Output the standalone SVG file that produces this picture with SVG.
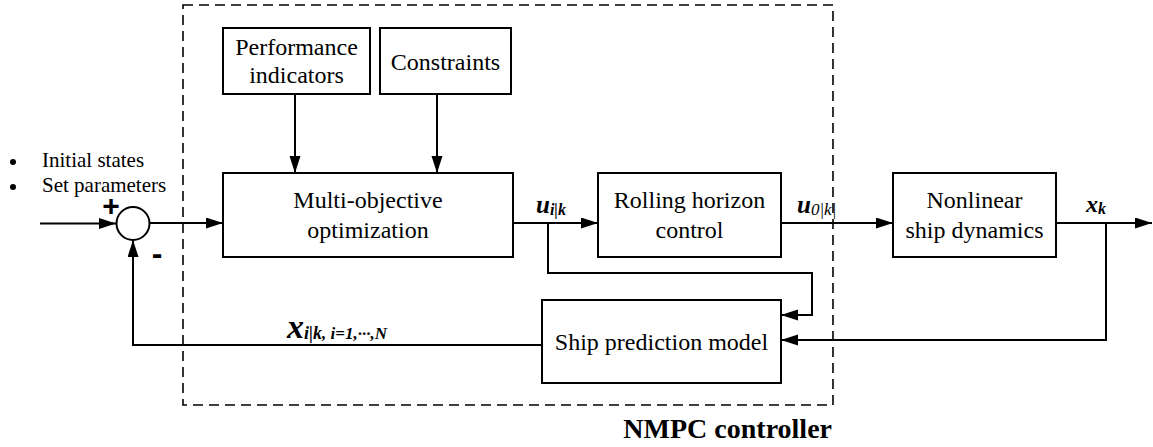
<svg xmlns="http://www.w3.org/2000/svg" width="1153" height="447" viewBox="0 0 1153 447">
<style>
.box{fill:#fff;stroke:#000;stroke-width:2}
.ln{fill:none;stroke:#000;stroke-width:2}
.t{font-family:"Liberation Serif","Times New Roman",serif;font-size:24px;fill:#000;text-anchor:middle}
.s{font-family:"Liberation Serif","Times New Roman",serif;font-size:21px;fill:#000}
.m{font-family:"Liberation Serif","Times New Roman",serif;font-weight:bold;font-style:italic;fill:#000}
</style>
<defs>
<marker id="ah" markerUnits="userSpaceOnUse" markerWidth="18" markerHeight="12" refX="17" refY="5.5" orient="auto">
<path d="M0,0 L17,5.5 L0,11 z" fill="#000"/>
</marker>
</defs>
<rect x="183" y="5" width="650" height="400" fill="none" stroke="#000" stroke-width="1.6" stroke-dasharray="10 6"/>
<text x="832" y="438" font-family="Liberation Serif, serif" font-weight="bold" font-size="28" text-anchor="end">NMPC controller</text>

<g id="inputs">
<circle cx="13" cy="162" r="3"/>
<circle cx="13" cy="187" r="3"/>
<text class="s" x="42" y="167">Initial states</text>
<text class="s" x="42" y="192">Set parameters</text>
</g>
<g id="sum">
<circle cx="133" cy="223.5" r="16.5" fill="#fff" stroke="#000" stroke-width="2"/>
<text x="111" y="216" font-family="Liberation Sans, Arial, sans-serif" font-weight="bold" font-size="30" text-anchor="middle">+</text>
<text x="157" y="264" font-family="Liberation Sans, Arial, sans-serif" font-weight="bold" font-size="32" text-anchor="middle">-</text>
</g>
<g id="perf">
<rect class="box" x="223" y="28" width="147" height="66"/>
<text class="t" x="296.5" y="55">Performance</text>
<text class="t" x="296.5" y="83">indicators</text>
</g>
<g id="cons">
<rect class="box" x="380" y="28" width="131" height="66"/>
<text class="t" x="445.5" y="70">Constraints</text>
</g>
<g id="multi">
<rect class="box" x="223" y="173" width="290" height="84"/>
<text class="t" x="368" y="208">Multi-objective</text>
<text class="t" x="368" y="238">optimization</text>
</g>
<g id="rolling">
<rect class="box" x="598" y="173" width="183" height="84"/>
<text class="t" x="689.5" y="208">Rolling horizon</text>
<text class="t" x="689.5" y="238">control</text>
</g>
<g id="nonlinear">
<rect class="box" x="893" y="173" width="163" height="84"/>
<text class="t" x="974.5" y="208">Nonlinear</text>
<text class="t" x="974.5" y="238">ship dynamics</text>
</g>
<g id="pred">
<rect class="box" x="542" y="300" width="239" height="83"/>
<text class="t" x="661.5" y="350">Ship prediction model</text>
</g>

<g id="connectors">
<line class="ln" x1="40" y1="223.5" x2="116" y2="223.5" marker-end="url(#ah)"/>
<line class="ln" x1="149.5" y1="223" x2="223" y2="223" marker-end="url(#ah)"/>
<line class="ln" x1="295" y1="94" x2="295" y2="173" marker-end="url(#ah)"/>
<line class="ln" x1="437" y1="94" x2="437" y2="173" marker-end="url(#ah)"/>
<line class="ln" x1="513" y1="223" x2="598" y2="223" marker-end="url(#ah)"/>
<polyline class="ln" points="548,223 548,273 812,273 812,315 781,315" marker-end="url(#ah)"/>
<line class="ln" x1="781" y1="223" x2="893" y2="223" marker-end="url(#ah)"/>
<line class="ln" x1="1056" y1="223" x2="1152" y2="223" marker-end="url(#ah)"/>
<polyline class="ln" points="1106,223 1106,340 781,340" marker-end="url(#ah)"/>
<polyline class="ln" points="542,345 133,345 133,240" marker-end="url(#ah)"/>
</g>

<g id="labels">
<text class="m" x="536" y="213" font-size="25">u<tspan font-size="16" dy="2">i|k</tspan></text>
<text class="m" x="797" y="213" font-size="25">u<tspan font-size="17" dy="2" font-weight="normal">0|k|</tspan></text>
<text class="m" x="1086" y="212" font-size="24">x<tspan font-size="16" dy="2">k</tspan></text>
<text class="m" x="287" y="338" font-size="34">x<tspan font-size="18" dy="1">i|k</tspan><tspan font-size="17">, i=1,···,N</tspan></text>
</g>
</svg>
